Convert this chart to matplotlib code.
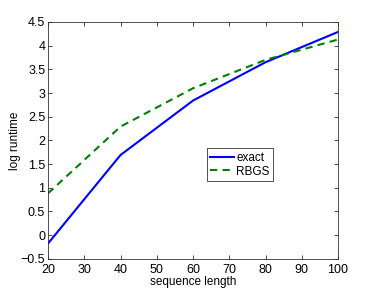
import numpy as np
import matplotlib
matplotlib.use('Agg')
from matplotlib import pyplot as plt

plt.rcParams['font.family'] = ['Liberation Sans', 'DejaVu Sans']

seq_len = [20, 40, 60, 80, 100]
exact = [-0.18, 1.69, 2.84, 3.65, 4.29]
rbgs = [0.88, 2.29, 3.10, 3.70, 4.13]

fig = plt.figure(figsize=(3.74, 2.92), dpi=100)
ax = fig.add_axes([48/374, 1 - 258.7/292, 290/374, 236.7/292])

ax.plot(seq_len, exact, color='#0000ff', lw=1.5, label='exact')
ax.plot(seq_len, rbgs, color='#008000', lw=1.5, ls=(0, (3.5, 2.5)), label='RBGS')

ax.set_xlim(20, 100)
ax.set_ylim(-0.5, 4.5)
ax.set_xticks(np.arange(20, 101, 10))
ax.set_yticks(np.arange(-0.5, 4.51, 0.5))
ax.set_yticklabels(['\u22120.5', '0', '0.5', '1', '1.5', '2', '2.5', '3', '3.5', '4', '4.5'])
ax.tick_params(direction='in', top=True, right=True, labelsize=9, length=3, width=0.5)
ax.tick_params(axis='x', pad=3.5)
ax.tick_params(axis='y', pad=2)
for s in ax.spines.values():
    s.set_linewidth(0.6)
    s.set_color('#333333')

ax.set_xlabel('sequence length', fontsize=8.5, labelpad=0)
ax.set_ylabel('log runtime', fontsize=8.5, labelpad=0)

leg = ax.legend(loc='lower left', bbox_to_anchor=(0.548, 0.328), fontsize=8.5,
                fancybox=False, edgecolor='#333333', framealpha=1,
                handlelength=2.0, handletextpad=0.2, borderpad=0.3, labelspacing=0.15,
                borderaxespad=0)
leg.get_frame().set_linewidth(0.6)

fig.savefig('out.png', dpi=100)
